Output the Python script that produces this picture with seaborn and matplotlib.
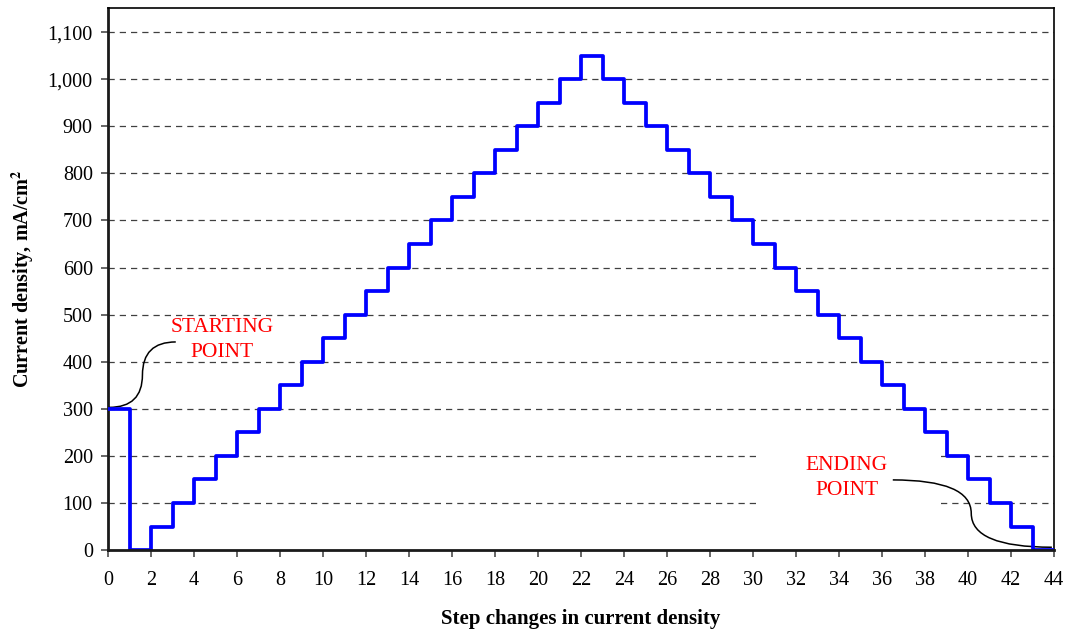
import numpy as np
import pandas as pd
import matplotlib.pyplot as plt
import matplotlib.ticker as mticker
from matplotlib.path import Path
from matplotlib.patches import PathPatch, Rectangle
import seaborn as sns

# -----------------------------------------------------------------------------
# DATA
# -----------------------------------------------------------------------------
steps = list(range(0, 45))
# current density held during each step (last value repeated for the step end)
density = [300, 0,
           50, 100, 150, 200, 250, 300, 350, 400, 450, 500,
           550, 600, 650, 700, 750, 800, 850, 900, 950, 1000,
           1050,
           1000, 950, 900, 850, 800, 750, 700, 650, 600, 550,
           500, 450, 400, 350, 300, 250, 200, 150, 100, 50,
           0, 0]
y_ticks = list(range(0, 1101, 100))
x_ticks = list(range(0, 45, 2))

df = pd.DataFrame({"step": steps, "density": density})

# -----------------------------------------------------------------------------
# SETUP
# -----------------------------------------------------------------------------
sns.set_theme(style="white")
plt.rcParams["font.family"] = ["Liberation Serif", "DejaVu Serif"]
plt.rcParams["mathtext.fontset"] = "stix"
plt.rcParams["text.color"] = "black"
plt.rcParams["axes.labelcolor"] = "black"

fig, ax = plt.subplots(figsize=(10.74, 6.33), dpi=100)
fig.subplots_adjust(left=0.1006, right=0.9814, top=0.988, bottom=0.131)

# dashed grid lines
for y in y_ticks[1:]:
    ax.axhline(y, color="0.25", lw=0.9, ls=(0, (5, 4)), zorder=1)

# white box behind the "ENDING POINT" label cuts the 100/200 grid lines
ax.add_patch(Rectangle((30.3, 60), 8.25, 170, facecolor="white",
                       edgecolor="none", zorder=2))

sns.lineplot(data=df, x="step", y="density", drawstyle="steps-post",
             estimator=None, color="#0000ff", lw=2.7, ax=ax, zorder=4)

ax.set_xlim(0, 44)
ax.set_ylim(0, 1152)
ax.set_xticks(x_ticks)
ax.set_yticks(y_ticks)
ax.yaxis.set_major_formatter(mticker.FuncFormatter(lambda v, p: f"{int(v):,}"))
ax.tick_params(axis="both", direction="out", length=5, width=1.2,
               color="0.3", labelsize=14.5, labelcolor="black", pad=6,
               bottom=True, left=True)
ax.tick_params(axis="x", pad=10)

for side in ["left", "bottom"]:
    ax.spines[side].set_color("0.1")
    ax.spines[side].set_linewidth(2.0)
for side in ["top", "right"]:
    ax.spines[side].set_color("black")
    ax.spines[side].set_linewidth(1.2)
ax.spines["bottom"].set_zorder(5)

ax.set_xlabel("Step changes in current density", fontsize=15,
              fontweight="bold", labelpad=14)
ax.set_ylabel(r"Current density, mA/cm$^\mathbf{2}$", fontsize=14.5,
              fontweight="bold", labelpad=8)

# -----------------------------------------------------------------------------
# ANNOTATIONS
# -----------------------------------------------------------------------------
ax.text(5.3, 446, "STARTING\nPOINT", color="red", fontsize=15.5,
        ha="center", va="center", linespacing=1.4, zorder=3)
ax.text(34.35, 153, "ENDING\nPOINT", color="red", fontsize=15.5,
        ha="center", va="center", linespacing=1.4, zorder=3)


def s_curve(p0, pm, p1):
    # two quarter bends meeting at a vertical tangent
    verts = [p0, (pm[0], p0[1]), pm, pm, pm, (pm[0], p1[1]), p1]
    codes = [Path.MOVETO, Path.CURVE3, Path.CURVE3,
             Path.LINETO, Path.MOVETO, Path.CURVE3, Path.CURVE3]
    return Path(verts, codes)


start_path = s_curve((0.05, 303), (1.6, 372), (3.15, 442))
ax.add_patch(PathPatch(start_path, fill=False, lw=1.1, color="black",
                       zorder=3, clip_on=False))

end_path = s_curve((36.5, 149), (40.15, 78), (43.9, 6))
ax.add_patch(PathPatch(end_path, fill=False, lw=1.1, color="black",
                       zorder=3))

plt.savefig("out.png", dpi=100)
